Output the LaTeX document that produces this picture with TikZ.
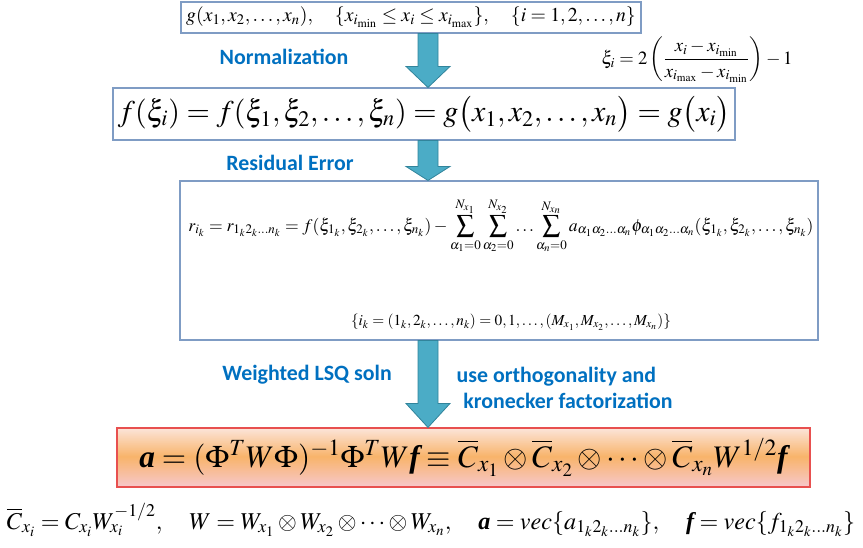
\documentclass[tikz,border=0pt]{standalone}
\usepackage{amsmath}
\usepackage{mathptmx}
\usepackage[no-math]{fontspec}
\setmainfont{Liberation Serif}
\newfontfamily\labelfont{Carlito}
\usetikzlibrary{positioning,calc,backgrounds}
\definecolor{boxline}{HTML}{7F9CC4}
\definecolor{labelblue}{HTML}{0070C0}
\definecolor{arrowfill}{HTML}{4BACC6}
\definecolor{arrowedge}{HTML}{31849B}
\definecolor{redline}{HTML}{E8504F}
\definecolor{peachtop}{HTML}{FCE6DC}
\definecolor{peachmid}{HTML}{F8B46C}
\definecolor{peachbot}{HTML}{F7C6C6}
\newcommand{\bv}[1]{\text{\bfseries\itshape #1}}
% block arrow from #1 down to #2, head length #3
\newcommand{\blockdown}[3]{%
  \filldraw[arrowbody] ($(#1)+(-10,0)$) -- ($(#1)+(10,0)$) -- ($(#2)+(10,-#3)$)
    -- ($(#2)+(22,-#3)$) -- (#2) -- ($(#2)+(-22,-#3)$) -- ($(#2)+(-10,-#3)$) -- cycle;}

\begin{document}
\begin{tikzpicture}[
  x=0.75pt, y=-0.75pt,
  eqbox/.style={draw=boxline, thick, inner sep=0pt},
  steplabel/.style={text=labelblue, font=\labelfont\bfseries\fontsize{16.4}{19}\selectfont, align=left},
  arrowbody/.style={fill=arrowfill, draw=arrowedge, line width=0.6pt}
]
\useasboundingbox (0,0) rectangle (863,548);

% formula boxes
\node[eqbox, minimum width=345pt, minimum height=23.25pt, font=\fontsize{14.8}{17}\selectfont] (gbox) at (411,17.5)
  {$g(x_1,x_2,\ldots,x_n),\quad \{x_{i_{\min}}\le x_i\le x_{i_{\max}}\},\quad \{i=1,2,\ldots,n\}$};
\node[eqbox, minimum width=466.5pt, minimum height=39pt, font=\fontsize{22.5}{26}\selectfont] (fbox) at (424,114)
  {$f(\xi_i)=f(\xi_1,\xi_2,\ldots,\xi_n)=g\bigl(x_1,x_2,\ldots,x_n\bigr)=g\bigl(x_i\bigr)$};
\node[eqbox, minimum width=478.5pt, minimum height=119.25pt] (rbox) at (499,260.5) {};
\node[font=\fontsize{13.2}{16}\selectfont] (rline) at (501,226)
  {$\displaystyle r_{i_k}=r_{1_k2_k\ldots n_k}=f(\xi_{1_k},\xi_{2_k},\ldots,\xi_{n_k})-\sum_{\alpha_1=0}^{N_{x_1}}\sum_{\alpha_2=0}^{N_{x_2}}\ldots\sum_{\alpha_n=0}^{N_{x_n}}a_{\alpha_1\alpha_2\ldots\alpha_n}\phi_{\alpha_1\alpha_2\ldots\alpha_n}(\xi_{1_k},\xi_{2_k},\ldots,\xi_{n_k})$};
\node[font=\fontsize{11.5}{14}\selectfont] (iline) at (511,322)
  {$\{i_k=(1_k,2_k,\ldots,n_k)=0,1,\ldots,(M_{x_1},M_{x_2},\ldots,M_{x_n})\}$};
\node[draw=redline, thick, minimum width=519.75pt, minimum height=44.25pt, inner sep=0pt,
  font=\fontsize{23.5}{27}\selectfont] (abox) at (463.5,457.5)
  {$\bv{a}=(\Phi^TW\Phi)^{-1}\Phi^TW\bv{f}\equiv\overline{C}_{x_1}\otimes\overline{C}_{x_2}\otimes\cdots\otimes\overline{C}_{x_n}W^{1/2}\bv{f}$};
% peach gradient behind the result box
\begin{scope}[on background layer]
  \foreach \i in {0,...,29}{
    \pgfmathtruncatemacro{\p}{100*\i/29}
    \fill[peachmid!\p!peachtop] ($(abox.north west)+(0,\i)$) rectangle ($(abox.north east)+(0,\i+1.1)$);
  }
  \foreach \i in {30,...,58}{
    \pgfmathtruncatemacro{\p}{100*(\i-30)/28}
    \fill[peachbot!\p!peachmid] ($(abox.north west)+(0,\i)$) rectangle ($(abox.north east)+(0,\i+1.1)$);
  }
\end{scope}

% side formulas
\node[font=\fontsize{14}{16}\selectfont] (xidef) at (697,60)
  {$\xi_i=2\left(\dfrac{x_i-x_{i_{\min}}}{x_{i_{\max}}-x_{i_{\min}}}\right)-1$};
\node[font=\fontsize{18.1}{21}\selectfont] (defs) at (431,520)
  {$\overline{C}_{x_i}=C_{x_i}W_{x_i}^{-1/2},\quad W=W_{x_1}\otimes W_{x_2}\otimes\cdots\otimes W_{x_n},\quad \bv{a}=vec\{a_{1_k2_k\ldots n_k}\},\quad \bv{f}=vec\{f_{1_k2_k\ldots n_k}\}$};

% step labels
\node[steplabel] (norm) at (284,57) {Normalization};
\node[steplabel] (resid) at (290,163) {Residual Error};
\node[steplabel] (wlsq) at (307,375) {Weighted LSQ soln};
\node[steplabel, anchor=west] (ortho) at (452,388) {use orthogonality and\\\hspace{5pt}kronecker factorization};

% block arrows
\coordinate (ax) at (428,0);
\blockdown{gbox.south -| ax}{fbox.north -| ax}{21}
\blockdown{fbox.south -| ax}{rbox.north -| ax}{14}
\blockdown{rbox.south -| ax}{abox.north -| ax}{24}

\end{tikzpicture}
\end{document}
